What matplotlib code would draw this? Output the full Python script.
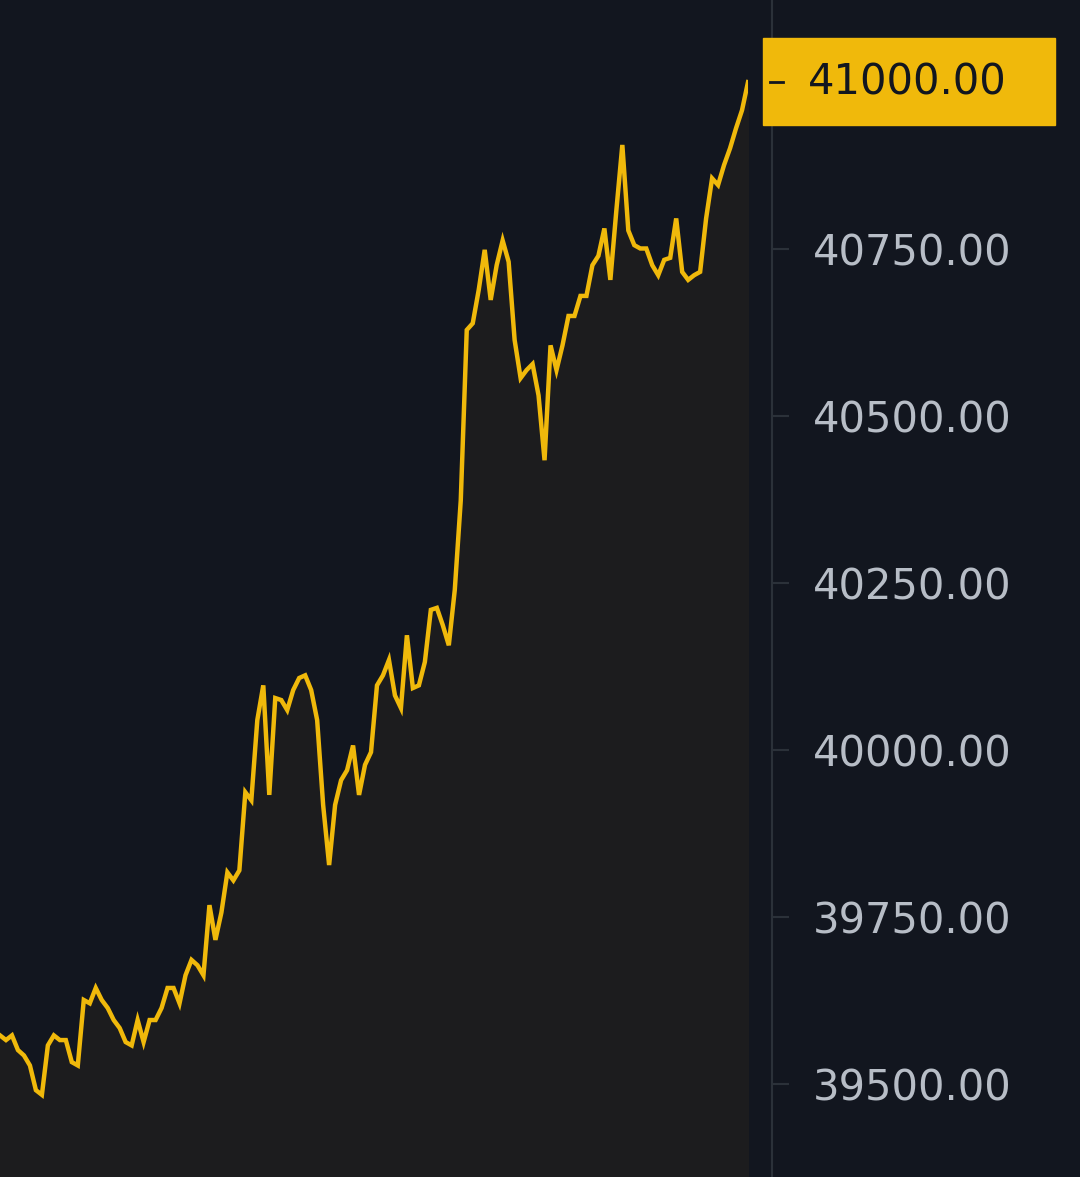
import matplotlib
matplotlib.use("Agg")
import matplotlib.pyplot as plt
import numpy as np

prices = [39573,39566,39573,39551,39543,39528,39491,39484,39558,39573,39566,39566,39533,39528,39626,39621,39644,39626,39614,39596,39584,39563,39558,39596,39563,39596,39596,39614,39644,39644,39621,39663,39686,39678,39663,39768,39716,39757,39817,39805,39820,39937,39925,40045,40097,39933,40078,40075,40060,40090,40108,40112,40090,40045,39918,39828,39918,39955,39970,40007,39933,39978,39997,40097,40112,40135,40082,40063,40172,40093,40097,40132,40210,40213,40187,40157,40240,40374,40629,40639,40689,40749,40674,40726,40763,40731,40614,40557,40569,40578,40531,40434,40606,40569,40606,40650,40650,40680,40680,40726,40740,40781,40704,40808,40906,40778,40756,40751,40751,40726,40711,40734,40737,40796,40716,40704,40711,40716,40796,40856,40846,40876,40901,40931,40958,41000]
ticks = [39500, 39750, 40000, 40250, 40500, 40750]
last_label = "41000.00"

bg = "#12161f"
yellow = "#f0b90b"
fig = plt.figure(figsize=(10.8, 11.77), dpi=100, facecolor=bg)
ax = fig.add_axes([0, 0, 748/1080, 1], facecolor=bg)
x = np.arange(len(prices))
ax.plot(x, prices, color=yellow, lw=3.2, solid_joinstyle="miter", zorder=3)
ax.fill_between(x, prices, 39300, color="#1c1c1e", zorder=1)
ax.set_xlim(0, len(prices) - 1)
ax.set_ylim(39361, 41123)
ax.set_xticks([])
for s in ["top", "left", "bottom"]:
    ax.spines[s].set_visible(False)
ax.spines["right"].set_position(("outward", 17))
ax.spines["right"].set_color("#2b3139")
ax.spines["right"].set_linewidth(1.5)
ax.yaxis.tick_right()
ax.set_yticks(ticks)
ax.set_yticklabels([f"{t:.2f}" for t in ticks])
ax.tick_params(axis="y", colors="#2b3139", labelcolor="#b7bdc6", length=12, width=1.5, pad=18, labelsize=30)

# highlighted last price label
y_fig = (41000 - 39361) / (41123 - 39361)
fig.patches.append(plt.Rectangle((763/1080, 1 - 125/1177), 292/1080, 87/1177,
                                 transform=fig.transFigure, color=yellow, zorder=5))
fig.add_artist(plt.Line2D([770/1080, 783/1080], [y_fig, y_fig], transform=fig.transFigure, color="#12161f", lw=2, zorder=6))
fig.text(808/1080, y_fig, last_label, color="#12161f", fontsize=30, va="center", ha="left", zorder=6)

fig.savefig("out.png", dpi=100, facecolor=bg)
